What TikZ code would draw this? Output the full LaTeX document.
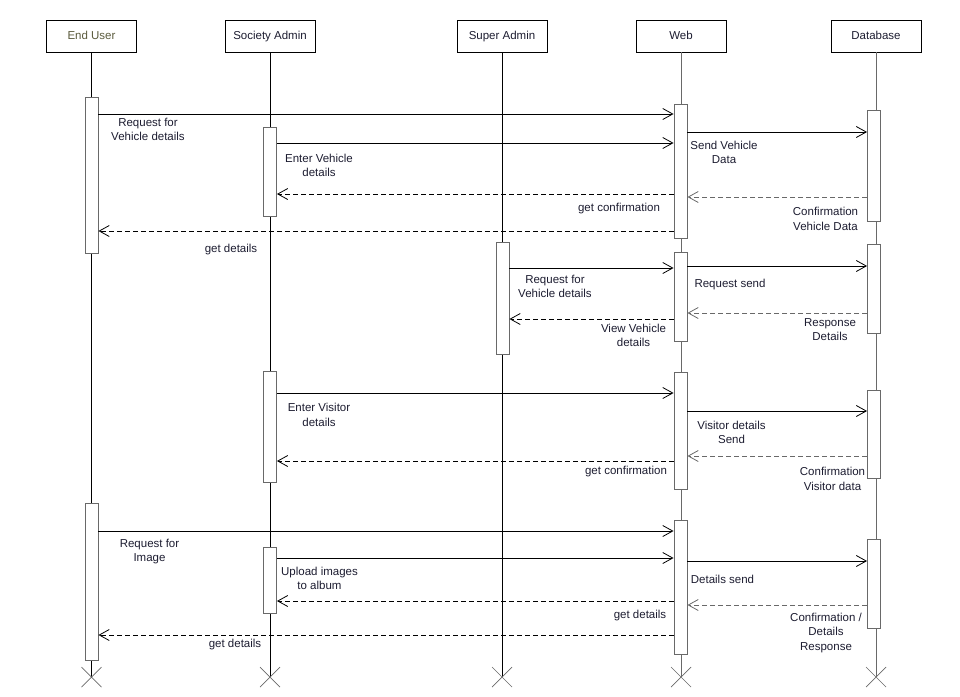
\documentclass[tikz,border=0pt]{standalone}
\usepackage{fontspec}
\setmainfont{Liberation Sans}
\usetikzlibrary{arrows.meta}
\definecolor{txt}{RGB}{28,28,48}
\definecolor{midgray}{RGB}{105,105,105}
\tikzset{
  head/.style={draw, line width=0.8pt, minimum width=90pt, minimum height=32pt, inner sep=0pt,
    text height=8.5pt, text depth=2.5pt, font=\fontsize{11.5}{14}\selectfont, text=txt},
  act/.style={draw=midgray, line width=0.9pt, fill=white, minimum width=13pt, inner sep=0pt},
  life/.style={line width=0.8pt},
  msg/.style={line width=0.8pt, -{Straight Barb[length=10pt,width=11pt,line width=0.8pt]}},
  ret/.style={msg, dash pattern=on 5pt off 3pt},
  lbl/.style={align=center, inner sep=0pt, yshift=-1.5pt, font=\fontsize{11.5}{14.5}\selectfont, text=txt},
  stop/.style={line width=0.7pt, midgray}
}
\begin{document}
\begin{tikzpicture}[x=1pt,y=-1pt]
  \useasboundingbox (0,0) rectangle (960,696);
  \node[head, text={rgb,255:red,90;green,90;blue,60}] (eu) at (91.5,36) {End User};
  \node[head] (sa) at (270,36) {Society Admin};
  \node[head] (sup) at (502,36) {Super Admin};
  \node[head] (web) at (681,36) {Web};
  \node[head] (db) at (876,36) {Database};
  \coordinate (euEnd) at (91.5,677);
  \coordinate (saEnd) at (270,677);
  \coordinate (supEnd) at (502,677);
  \coordinate (webEnd) at (681,677);
  \coordinate (dbEnd) at (876,677);
  \draw[life] (eu) -- (euEnd);
  \draw[life] (sa) -- (saEnd);
  \draw[life] (sup) -- (supEnd);
  \draw[life, midgray] (web) -- (webEnd);
  \draw[life, midgray] (db) -- (dbEnd);
  \foreach \e in {euEnd,saEnd,supEnd,webEnd,dbEnd}
    \draw[stop] (\e) +(-10,-10) -- +(10,10) +(-10,10) -- +(10,-10);
  \node[act, minimum height=156pt] (eu1) at (91.5,175) {};
  \node[act, minimum height=157pt] (eu2) at (91.5,581.5) {};
  \node[act, minimum height=89pt] (sa1) at (270,171.5) {};
  \node[act, minimum height=111pt] (sa2) at (270,426.5) {};
  \node[act, minimum height=66pt] (sa3) at (270,580) {};
  \node[act, minimum height=112pt] (sup1) at (502.5,298) {};
  \node[act, minimum height=134pt] (web1) at (680.5,171) {};
  \node[act, minimum height=89pt] (web2) at (680.5,296.5) {};
  \node[act, minimum height=117pt] (web3) at (680.5,430.5) {};
  \node[act, minimum height=134pt] (web4) at (680.5,587) {};
  \node[act, minimum height=111pt] (db1) at (874,165.5) {};
  \node[act, minimum height=89pt] (db2) at (874,288.5) {};
  \node[act, minimum height=88pt] (db3) at (874,434) {};
  \node[act, minimum height=89pt] (db4) at (874,583.5) {};
  \draw[msg] (eu1.east |- 0,114) -- (web1.west |- 0,114);
  \draw[msg] (sa1.east |- 0,143) -- (web1.west |- 0,143);
  \draw[msg] (web1.east |- 0,132) -- (db1.west |- 0,132);
  \draw[ret, midgray] (db1.west |- 0,197) -- (web1.east |- 0,197);
  \draw[ret] (web1.west |- 0,194) -- (sa1.east |- 0,194);
  \draw[ret] (web1.west |- 0,231) -- (eu1.east |- 0,231);
  \draw[msg] (sup1.east |- 0,268) -- (web2.west |- 0,268);
  \draw[msg] (web2.east |- 0,266) -- (db2.west |- 0,266);
  \draw[ret, midgray] (db2.west |- 0,313) -- (web2.east |- 0,313);
  \draw[ret] (web2.west |- 0,319) -- (sup1.east |- 0,319);
  \draw[msg] (sa2.east |- 0,393) -- (web3.west |- 0,393);
  \draw[msg] (web3.east |- 0,411) -- (db3.west |- 0,411);
  \draw[ret, midgray] (db3.west |- 0,456) -- (web3.east |- 0,456);
  \draw[ret] (web3.west |- 0,461) -- (sa2.east |- 0,461);
  \draw[msg] (eu2.east |- 0,531) -- (web4.west |- 0,531);
  \draw[msg] (sa3.east |- 0,558) -- (web4.west |- 0,558);
  \draw[msg] (web4.east |- 0,561) -- (db4.west |- 0,561);
  \draw[ret, midgray] (db4.west |- 0,605) -- (web4.east |- 0,605);
  \draw[ret] (web4.west |- 0,601) -- (sa3.east |- 0,601);
  \draw[ret] (web4.west |- 0,635) -- (eu2.east |- 0,635);
  \node[lbl] (l1) at (148,128) {Request for\\Vehicle details};
  \node[lbl] (l2) at (319,164) {Enter Vehicle\\details};
  \node[lbl] (l3) at (724,151) {Send Vehicle\\Data};
  \node[lbl] (l4) at (825.5,217.5) {Confirmation\\Vehicle Data};
  \node[lbl] (l5) at (619,207) {get confirmation};
  \node[lbl] (l6) at (231,248) {get details};
  \node[lbl] (l7) at (555,285) {Request for\\Vehicle details};
  \node[lbl] (l8) at (730,283) {Request send};
  \node[lbl] (l9) at (830,328) {Response\\Details};
  \node[lbl] (l10) at (633.5,334) {View Vehicle\\details};
  \node[lbl] (l11) at (319,413.5) {Enter Visitor\\details};
  \node[lbl] (l12) at (731.5,431) {Visitor details\\Send};
  \node[lbl] (l13) at (832.5,477.5) {Confirmation\\Visitor data};
  \node[lbl] (l14) at (626,470) {get confirmation};
  \node[lbl] (l15) at (149.5,550) {Request for\\Image};
  \node[lbl] (l16) at (319.5,577) {Upload images\\to album};
  \node[lbl] (l17) at (722.5,578) {Details send};
  \node[lbl] (l18) at (826,631.5) {Confirmation /\\Details\\Response};
  \node[lbl] (l19) at (640,614) {get details};
  \node[lbl] (l20) at (235,643) {get details};
\end{tikzpicture}
\end{document}
